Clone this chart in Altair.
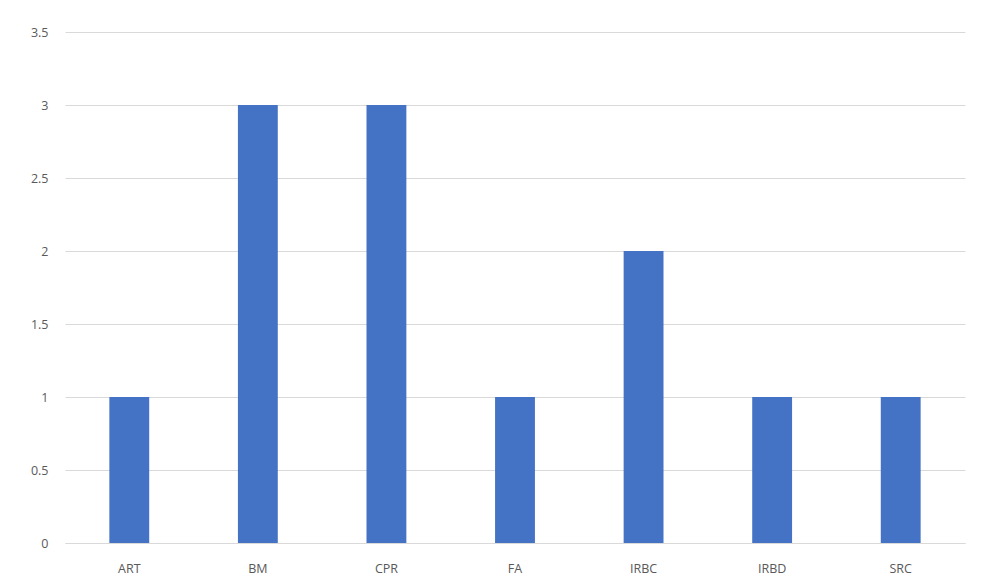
import altair as alt
import pandas as pd

categories = ["ART", "BM", "CPR", "FA", "IRBC", "IRBD", "SRC"]
values = [1, 3, 3, 1, 2, 1, 1]
y_ticks = [0, 0.5, 1, 1.5, 2, 2.5, 3, 3.5]

df = pd.DataFrame({"cat": categories, "val": values})

chart = alt.Chart(df).mark_bar(color="#4472C4").encode(
    x=alt.X("cat:N", sort=categories, title=None,
            scale=alt.Scale(paddingInner=0.69, paddingOuter=0.345),
            axis=alt.Axis(labelAngle=0, ticks=False, domain=True, domainColor="#D9D9D9",
                          labelPadding=19, labelColor="#595959", labelFontSize=12.5,
                          labelFont="Open Sans", grid=False)),
    y=alt.Y("val:Q", title=None,
            scale=alt.Scale(domain=[0, 3.5], nice=False),
            axis=alt.Axis(values=y_ticks, ticks=False, domain=False, gridColor="#D9D9D9",
                          labelPadding=17, labelColor="#595959", labelFontSize=12.5,
                          labelFont="Open Sans", labelExpr="format(datum.value, '')")),
).properties(
    width=900, height=511,
    padding={"left": 57, "top": 24, "right": 5, "bottom": 36},
    autosize=alt.AutoSizeParams(type="none"),
).configure_view(stroke=None)

chart.save("out.html", embed_options={"renderer": "svg", "actions": False})
